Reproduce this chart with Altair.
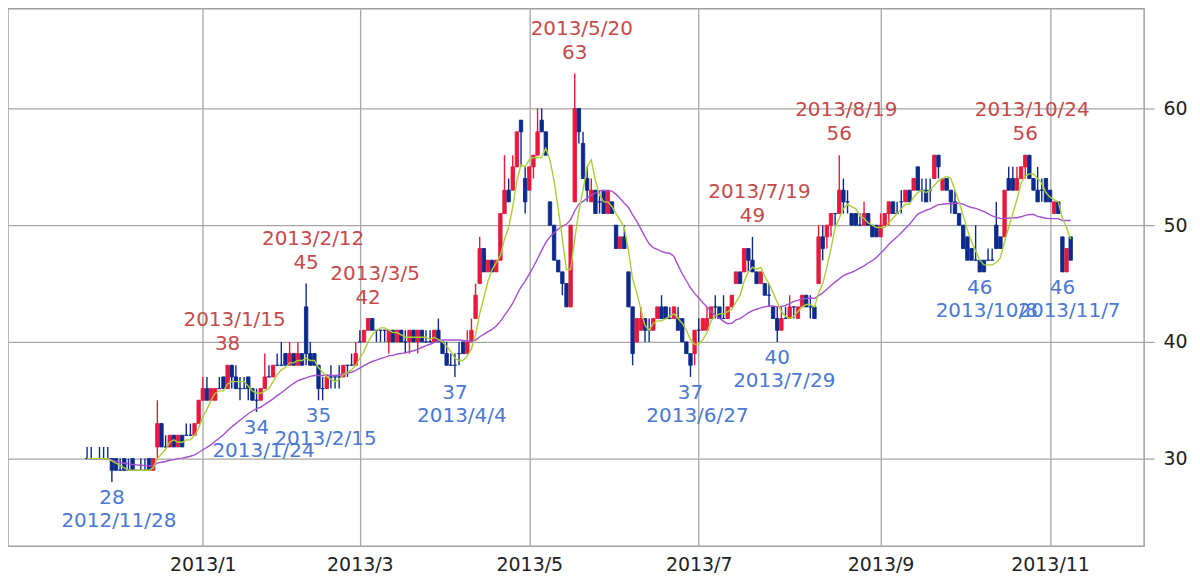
import altair as alt
import pandas as pd

# ---------------- data ----------------
holidays = ["2012-11-23", "2012-12-24", "2012-12-31", "2013-01-01", "2013-01-02",
            "2013-01-03", "2013-01-14", "2013-02-11", "2013-03-20", "2013-04-29",
            "2013-05-03", "2013-05-06", "2013-07-15", "2013-09-16", "2013-09-23",
            "2013-10-14", "2013-11-04"]
first_day, last_day = "2012-11-19", "2013-11-11"

# Nov 2012 | Dec 2012 | Jan | Feb | Mar | Apr | May | Jun | Jul | Aug | Sep | Oct | Nov 2013
opens = ([30, 30, 30, 30, 30, 30, 30, 30, 29]
         + [30, 29, 30, 29, 29, 29, 30, 29, 31, 33, 31, 31, 32, 31, 32, 32, 32, 32, 33]
         + [35, 36, 35, 35, 36, 37, 36, 38, 37, 36, 36, 37, 36, 35, 35, 36, 37, 37, 38]
         + [38, 39, 38, 39, 38, 39, 43, 39, 39, 38, 36, 36, 37, 37, 37, 37, 38, 38, 38]
         + [40, 40, 41, 42, 41, 41, 41, 40, 41, 40, 41, 40, 40, 41, 40, 41, 40, 40, 40, 41]
         + [40, 39, 38, 38, 39, 40, 39, 40, 42, 45, 48, 46, 47, 46, 47, 51, 53, 53, 55, 59, 54]
         + [53, 55, 56, 59, 58, 52, 50, 47, 46, 45, 43, 52, 60, 57, 54, 52, 53, 52, 53, 51, 52]
         + [50, 48, 49, 46, 43, 40, 41, 42, 41, 41, 42, 43, 43, 42, 42, 42, 42, 40, 39, 39]
         + [41, 41, 41, 42, 43, 43, 42, 42, 43, 45, 46, 46, 48, 47, 46, 45, 45, 44, 43, 42, 41, 42]
         + [42, 43, 42, 43, 44, 43, 43, 45, 49, 49, 50, 51, 51, 53, 52, 51, 51, 50, 50, 51, 50, 50]
         + [49, 50, 51, 52, 51, 52, 52, 53, 53, 55, 53, 53, 53, 54, 56, 53, 54, 53, 52]
         + [51, 50, 49, 48, 47, 47, 47, 47, 47, 50, 49, 49, 54, 54, 53, 54, 55, 56, 54, 53, 53, 54]
         + [53, 51, 52, 49, 46, 49])
highs = ([31, 31, 30, 31, 31, 31, 30, 30, 30]
         + [30, 30, 30, 29, 30, 30, 30, 30, 35, 33, 32, 32, 32, 32, 32, 33, 33, 33, 35]
         + [37, 37, 36, 36, 37, 37, 38, 38, 38, 37, 37, 37, 36, 36, 36, 39, 38, 38, 39]
         + [40, 39, 40, 39, 40, 39, 45, 40, 39, 38, 37, 37, 38, 37, 38, 38, 38, 39, 40]
         + [41, 41, 42, 42, 41, 41, 41, 41, 41, 41, 41, 41, 41, 41, 41, 41, 41, 41, 41, 42]
         + [40, 40, 39, 39, 40, 40, 41, 42, 45, 49, 48, 47, 47, 47, 51, 56, 54, 56, 58, 59, 55]
         + [55, 56, 60, 60, 58, 52, 50, 47, 46, 45, 50, 63, 60, 58, 55, 54, 53, 53, 53, 53, 52]
         + [50, 49, 50, 46, 43, 42, 43, 42, 42, 42, 43, 44, 43, 43, 43, 43, 42, 40, 39, 41]
         + [42, 42, 43, 43, 44, 43, 44, 43, 44, 46, 46, 48, 48, 49, 46, 46, 45, 45, 43, 43, 43, 43]
         + [44, 43, 43, 44, 44, 44, 43, 50, 50, 50, 51, 51, 56, 54, 53, 51, 51, 51, 52, 51, 50, 50]
         + [51, 51, 52, 52, 52, 53, 53, 53, 54, 55, 54, 54, 54, 56, 56, 54, 54, 53, 53]
         + [51, 50, 49, 48, 50, 47, 47, 48, 48, 52, 49, 53, 55, 55, 55, 55, 56, 56, 54, 55, 54, 54]
         + [53, 52, 52, 49, 48, 49])
lows = ([30, 30, 30, 30, 30, 30, 28, 29, 29]
        + [29, 29, 29, 29, 29, 29, 29, 29, 30, 31, 31, 31, 31, 31, 31, 32, 32, 32, 33]
        + [35, 35, 35, 35, 36, 36, 36, 36, 36, 35, 36, 35, 35, 34, 35, 36, 37, 37, 38]
        + [38, 38, 38, 38, 38, 38, 38, 38, 38, 35, 35, 36, 36, 36, 36, 37, 37, 38, 38]
        + [40, 40, 41, 41, 40, 40, 40, 39, 40, 40, 40, 39, 39, 40, 39, 40, 40, 40, 40, 40]
        + [39, 38, 38, 37, 38, 39, 39, 40, 42, 45, 46, 46, 46, 46, 47, 51, 52, 53, 55, 55, 51]
        + [53, 54, 56, 58, 56, 50, 47, 46, 44, 43, 43, 52, 57, 54, 52, 52, 51, 51, 51, 51, 51]
        + [48, 48, 48, 43, 38, 40, 41, 40, 40, 41, 42, 42, 42, 42, 42, 41, 40, 39, 37, 38]
        + [40, 41, 41, 42, 42, 42, 42, 42, 43, 45, 45, 46, 46, 46, 45, 45, 44, 43, 42, 40, 41, 42]
        + [42, 42, 42, 43, 43, 42, 42, 45, 47, 48, 49, 50, 51, 51, 51, 50, 50, 50, 50, 50, 49, 49]
        + [49, 50, 50, 51, 51, 51, 52, 52, 53, 53, 52, 52, 52, 54, 54, 53, 53, 51, 51]
        + [50, 48, 47, 47, 47, 46, 46, 47, 47, 48, 48, 49, 53, 53, 53, 54, 54, 54, 53, 52, 52, 52]
        + [52, 51, 51, 46, 46, 47])
closes = ([30, 30, 30, 30, 30, 30, 29, 29, 29]
          + [29, 29, 29, 29, 29, 29, 29, 30, 33, 31, 31, 32, 31, 32, 31, 32, 32, 33, 35]
          + [36, 35, 36, 36, 36, 36, 38, 37, 36, 36, 36, 36, 35, 35, 36, 37, 37, 38, 38]
          + [38, 38, 39, 38, 39, 38, 39, 38, 38, 36, 36, 37, 37, 37, 37, 38, 38, 38, 39]
          + [40, 41, 42, 41, 41, 41, 41, 41, 40, 41, 40, 40, 41, 40, 41, 40, 40, 40, 41, 40]
          + [39, 38, 38, 38, 39, 39, 40, 41, 44, 48, 46, 47, 46, 47, 51, 53, 52, 55, 58, 58, 52]
          + [55, 56, 58, 58, 56, 50, 47, 46, 45, 43, 50, 60, 58, 54, 53, 53, 51, 52, 51, 53, 51]
          + [48, 49, 48, 43, 39, 42, 42, 41, 41, 42, 43, 42, 42, 42, 43, 41, 40, 39, 38, 41]
          + [41, 42, 42, 43, 43, 42, 42, 43, 44, 46, 45, 48, 47, 46, 45, 46, 44, 44, 42, 41, 42, 42]
          + [43, 43, 43, 44, 43, 43, 42, 49, 48, 50, 51, 51, 53, 52, 52, 50, 50, 50, 51, 50, 49, 49]
          + [50, 51, 52, 51, 51, 52, 53, 52, 54, 53, 53, 52, 53, 56, 55, 54, 53, 52, 51]
          + [50, 48, 47, 47, 47, 46, 46, 47, 47, 48, 48, 53, 53, 53, 54, 55, 56, 54, 53, 52, 53, 52]
          + [52, 52, 51, 46, 48, 47])

high_dates = ["2013/1/15", "2013/2/12", "2013/3/5", "2013/5/20", "2013/7/19", "2013/8/19", "2013/10/24"]
high_vals = [38, 45, 42, 63, 49, 56, 56]
low_dates = ["2012/11/28", "2013/1/24", "2013/2/15", "2013/4/4", "2013/6/27", "2013/7/29", "2013/10/8", "2013/11/7"]
low_vals = [28, 34, 35, 37, 37, 40, 46, 46]

tick_labels = ["2013/1", "2013/3", "2013/5", "2013/7", "2013/9", "2013/11"]
y_ticks = [30, 40, 50, 60]

# ---------------- build tables ----------------
days = [d for d in pd.bdate_range(first_day, last_day) if d.strftime("%Y-%m-%d") not in holidays]
assert len(days) == len(opens) == len(highs) == len(lows) == len(closes), (len(days), len(opens))
origin = days.index(pd.Timestamp("2013-01-04"))
pos = {d: k - origin for k, d in enumerate(days)}

df = pd.DataFrame({
    "i": [pos[d] for d in days],
    "open": opens, "high": highs, "low": lows, "close": closes,
})
df["dir"] = ["up" if c > o else "down" for o, c in zip(opens, closes)]


def idx_of(s):
    return pos[pd.to_datetime(s, format="%Y/%m/%d")]


hi_df = pd.DataFrame({"i": [idx_of(s) for s in high_dates], "v": high_vals, "d": high_dates})
lo_df = pd.DataFrame({"i": [idx_of(s) for s in low_dates], "v": low_vals, "d": low_dates})
hi_df["vs"] = hi_df["v"].astype(str)
lo_df["vs"] = lo_df["v"].astype(str)

tick_idx = []
for t in tick_labels:
    y, m = t.split("/")
    first = min(d for d in days if d.year == int(y) and d.month == int(m))
    tick_idx.append(pos[first])
expr = ""
for v, t in zip(tick_idx, tick_labels):
    expr += f"datum.value == {v} ? '{t}' : "
expr += "''"

# ---------------- encodings ----------------
FONT = "DejaVu Sans"
GRID = "#a6a6a6"
xs = alt.Scale(domain=[-45.93, 226.56], nice=False, zero=False)
ys = alt.Scale(domain=[22.48, 68.55], nice=False, zero=False)
x_axis = alt.Axis(values=tick_idx, labelExpr=expr, grid=True, gridColor=GRID, gridWidth=1.3,
                  ticks=False, domain=False, labelFont=FONT, labelFontSize=19,
                  labelColor="#222222", labelPadding=9, title=None)
y_axis = alt.Axis(orient="right", values=y_ticks, grid=True, gridColor=GRID, gridWidth=1.3,
                  tickColor=GRID, tickSize=10, tickWidth=1.3, domain=False, labelFont=FONT,
                  labelFontSize=19, labelColor="#222222", labelPadding=9, title=None)
X = alt.X("i:Q", scale=xs, axis=x_axis)
col_scale = alt.Scale(domain=["up", "down"], range=["#e8193c", "#0b2a8c"])

base = alt.Chart(df)
wicks = base.mark_rule(strokeWidth=1.4).encode(
    x=X, y=alt.Y("low:Q", scale=ys, axis=y_axis), y2="high:Q",
    color=alt.Color("dir:N", scale=col_scale, legend=None))
bodies = base.mark_bar(size=3.4, strokeWidth=0.9).encode(
    x=X, y=alt.Y("open:Q", scale=ys, axis=y_axis), y2="close:Q",
    color=alt.Color("dir:N", scale=col_scale, legend=None),
    stroke=alt.Color("dir:N", scale=col_scale, legend=None))
ma25 = base.transform_window(
    ma="mean(close)", frame=[-24, 0], sort=[alt.SortField("i")]
).mark_line(color="#a64fd0", strokeWidth=1.4).encode(
    x=X, y=alt.Y("ma:Q", scale=ys, axis=y_axis))
ma5 = base.transform_window(
    ma="mean(close)", frame=[-4, 0], sort=[alt.SortField("i")]
).mark_line(color="#a9cf38", strokeWidth=1.4).encode(
    x=X, y=alt.Y("ma:Q", scale=ys, axis=y_axis))

RED_T = "#c64a4a"
BLUE_T = "#4a78d2"
hi_base = alt.Chart(hi_df)
hi_val = hi_base.mark_text(font=FONT, fontSize=20, color=RED_T, dy=-21).encode(
    x=X, y=alt.Y("v:Q", scale=ys, axis=y_axis), text="vs:N")
hi_date = hi_base.mark_text(font=FONT, fontSize=20, color=RED_T, dy=-45, dx=7).encode(
    x=X, y=alt.Y("v:Q", scale=ys, axis=y_axis), text="d:N")
lo_base = alt.Chart(lo_df)
lo_val = lo_base.mark_text(font=FONT, fontSize=20, color=BLUE_T, dy=16).encode(
    x=X, y=alt.Y("v:Q", scale=ys, axis=y_axis), text="vs:N")
lo_date = lo_base.mark_text(font=FONT, fontSize=20, color=BLUE_T, dy=39, dx=7).encode(
    x=X, y=alt.Y("v:Q", scale=ys, axis=y_axis), text="d:N")

chart = alt.layer(wicks, bodies, ma25, ma5, hi_val, hi_date, lo_val, lo_date).properties(
    width=1139, height=539,
    padding={"left": 0, "top": 0, "right": 4, "bottom": 2},
    background="white",
).configure_view(stroke="#a0a0a0", strokeWidth=1.5)

chart.save("out.html", embed_options={"renderer": "svg", "actions": False})
